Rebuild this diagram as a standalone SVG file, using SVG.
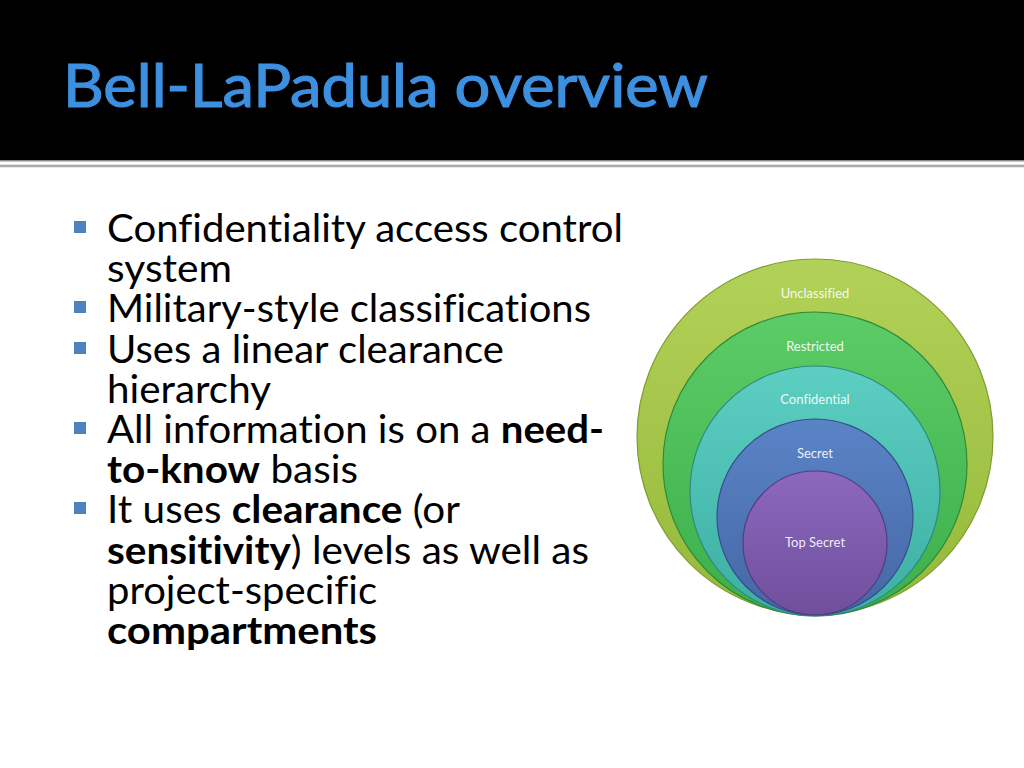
<svg xmlns="http://www.w3.org/2000/svg" width="1024" height="768" viewBox="0 0 1024 768">
<style>
text{font-variant-ligatures:none;}
.title{font-family:Lato,"Open Sans","Liberation Sans",sans-serif;font-size:60px;fill:#3d8fe0;stroke:#3d8fe0;stroke-width:1.2px;}
.body{font-family:Lato,"Open Sans","Liberation Sans",sans-serif;font-size:39px;fill:#000;}
.b{font-weight:bold;}
.bullet{fill:#4f81bd;}
.lbl{font-family:Lato,"Open Sans","Liberation Sans",sans-serif;font-size:13px;fill:#ffffff;fill-opacity:0.9;text-anchor:middle;}
</style>
<defs>
<linearGradient id="gU" x1="0" y1="0" x2="0" y2="1"><stop offset="0" stop-color="#b2d158"/><stop offset="1" stop-color="#95b93a"/></linearGradient>
<linearGradient id="gR" x1="0" y1="0" x2="0" y2="1"><stop offset="0" stop-color="#5bcc66"/><stop offset="1" stop-color="#3daf4a"/></linearGradient>
<linearGradient id="gC" x1="0" y1="0" x2="0" y2="1"><stop offset="0" stop-color="#5ccfc2"/><stop offset="1" stop-color="#3daea2"/></linearGradient>
<linearGradient id="gS" x1="0" y1="0" x2="0" y2="1"><stop offset="0" stop-color="#5a84c6"/><stop offset="1" stop-color="#4566a6"/></linearGradient>
<linearGradient id="gT" x1="0" y1="0" x2="0" y2="1"><stop offset="0" stop-color="#8c68be"/><stop offset="1" stop-color="#6f4f9c"/></linearGradient>
<linearGradient id="rule" x1="0" y1="0" x2="0" y2="1"><stop offset="0" stop-color="#c8c8c8"/><stop offset="0.5" stop-color="#9a9a9a"/><stop offset="1" stop-color="#d0d0d0"/></linearGradient>
</defs>
<rect x="0" y="0" width="1024" height="768" fill="#ffffff"/>
<g id="header">
<rect x="0" y="0" width="1024" height="160" fill="#000000"/>
<rect x="0" y="160" width="1024" height="1.5" fill="#8a8a8a"/>
<rect x="0" y="164.5" width="1024" height="3" fill="url(#rule)"/>
<text class="title" x="63" y="107" textLength="645" lengthAdjust="spacingAndGlyphs">Bell-LaPadula overview</text>
</g>
<g id="bullets">
<rect class="bullet" x="74" y="221" width="12" height="12"/>
<rect class="bullet" x="74" y="301" width="12" height="12"/>
<rect class="bullet" x="74" y="342" width="12" height="12"/>
<rect class="bullet" x="74" y="422" width="12" height="12"/>
<rect class="bullet" x="74" y="502" width="12" height="12"/>
<text class="body" x="107" y="242" textLength="516" lengthAdjust="spacingAndGlyphs">Confidentiality access control</text>
<text class="body" x="107" y="282" textLength="125" lengthAdjust="spacingAndGlyphs">system</text>
<text class="body" x="107" y="322" textLength="484" lengthAdjust="spacingAndGlyphs">Military-style classifications</text>
<text class="body" x="107" y="363" textLength="397" lengthAdjust="spacingAndGlyphs">Uses a linear clearance</text>
<text class="body" x="107" y="403" textLength="164" lengthAdjust="spacingAndGlyphs">hierarchy</text>
<text class="body" x="107" y="443" textLength="497" lengthAdjust="spacingAndGlyphs">All information is on a <tspan class="b">need-</tspan></text>
<text class="body" x="107" y="483" textLength="251" lengthAdjust="spacingAndGlyphs"><tspan class="b">to-know</tspan> basis</text>
<text class="body" x="107" y="523" textLength="353" lengthAdjust="spacingAndGlyphs">It uses <tspan class="b">clearance</tspan> (or</text>
<text class="body" x="107" y="564" textLength="482" lengthAdjust="spacingAndGlyphs"><tspan class="b">sensitivity</tspan>) levels as well as</text>
<text class="body" x="107" y="604" textLength="270" lengthAdjust="spacingAndGlyphs">project-specific</text>
<text class="body b" x="107" y="644" textLength="270" lengthAdjust="spacingAndGlyphs">compartments</text>
</g>
<g id="unclassified">
<circle cx="815" cy="437" r="178" fill="url(#gU)" stroke="#7d9c32" stroke-width="1.2"/>
<text class="lbl" x="815" y="298">Unclassified</text>
</g>
<g id="restricted">
<circle cx="815" cy="464" r="152" fill="url(#gR)" stroke="#2f8a3a" stroke-width="1.2"/>
<text class="lbl" x="815" y="351">Restricted</text>
</g>
<g id="confidential">
<circle cx="815" cy="491" r="125" fill="url(#gC)" stroke="#2e8a80" stroke-width="1.2"/>
<text class="lbl" x="815" y="404">Confidential</text>
</g>
<g id="secret">
<circle cx="815" cy="517" r="98" fill="url(#gS)" stroke="#34508a" stroke-width="1.2"/>
<text class="lbl" x="815" y="458">Secret</text>
</g>
<g id="topsecret">
<circle cx="815" cy="543" r="72" fill="url(#gT)" stroke="#553b80" stroke-width="1.2"/>
<text class="lbl" x="815" y="547">Top Secret</text>
</g>
</svg>
